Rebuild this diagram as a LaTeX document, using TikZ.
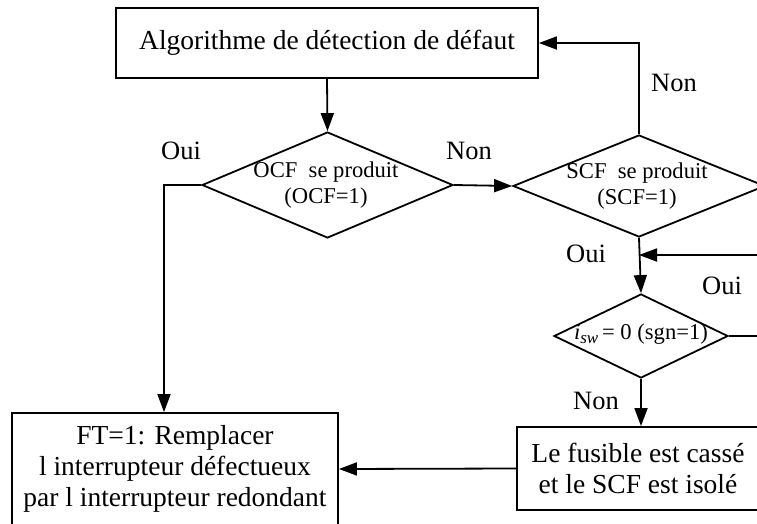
\documentclass[tikz,border=0pt]{standalone}
\usepackage{fontspec}
\setmainfont{Liberation Serif}
\usetikzlibrary{shapes.geometric,arrows.meta}
\begin{document}
\begin{tikzpicture}[x=1pt,y=-1pt,
  line width=1.8pt,
  boxnode/.style={draw,rectangle,inner sep=0pt,align=center,font=\fontsize{27.5}{31}\selectfont},
  decnode/.style={draw,diamond,inner sep=0pt},
  dectext/.style={align=center,inner sep=0pt,font=\fontsize{22.6}{26}\selectfont},
  lbl/.style={inner sep=0pt,font=\fontsize{26.5}{30}\selectfont},
  arr/.style={-{Triangle[length=18pt,width=13pt]}}]
\useasboundingbox (0,0) rectangle (757,524);
\clip (0,0) rectangle (757,524);
% nodes
\node[boxnode,minimum width=422pt,minimum height=70pt] (top) at (327,43) {Algorithme de détection de défaut};
\node[decnode,minimum width=251pt,minimum height=106pt] (ocf) at (327.5,185) {};
\node[dectext] (ocft) at (326,185) {OCF\ \ se produit\\(OCF=1)};
\node[decnode,minimum width=252pt,minimum height=102pt] (scf) at (639,186) {};
\node[dectext] (scft) at (637,186) {SCF\ \ se produit\\(SCF=1)};
\node[decnode,minimum width=174pt,minimum height=84pt] (isw) at (641,336) {};
\node[dectext] (iswt) at (641,334) {\textit{i}\raisebox{-0.35ex}{\fontsize{17}{17}\selectfont\textit{sw}}\,= 0 (sgn=1)};
\node[boxnode,minimum width=242pt,minimum height=83pt] (fus) at (638,468.5) {Le fusible est cassé\\et le SCF est isolé};
\node[boxnode,minimum width=326pt,minimum height=112pt] (left) at (175,469) {FT=1: Remplacer\\l interrupteur défectueux\\par l interrupteur redondant};
% labels
\node[lbl] (l1) at (181,151) {Oui};
\node[lbl] (l2) at (469,151) {Non};
\node[lbl] (l3) at (674,83) {Non};
\node[lbl] (l4) at (586,254) {Oui};
\node[lbl] (l5) at (722,286) {Oui};
\node[lbl] (l6) at (596,401) {Non};
% coordinates
\coordinate (c1) at (164,185);
\coordinate (r1) at (770,255);
\coordinate (r2) at (770,336);
% connectors
\draw[arr] (top.south) -- (ocf.north);
\draw[arr] (ocf.west) -- (c1) -- (c1 |- left.north);
\draw[arr] (ocf.east) -- (scf.west);
\draw[arr] (scf.north) |- (top.east);
\draw[arr] (scf.south) -- (isw.north);
\draw[arr] (r1) -- (r1 -| scf.south);
\draw (isw.east) -- (r2);
\draw[arr] (isw.south) -- (isw.south |- fus.north);
\draw[arr] (fus.west) -- (left.east);
\end{tikzpicture}
\end{document}
